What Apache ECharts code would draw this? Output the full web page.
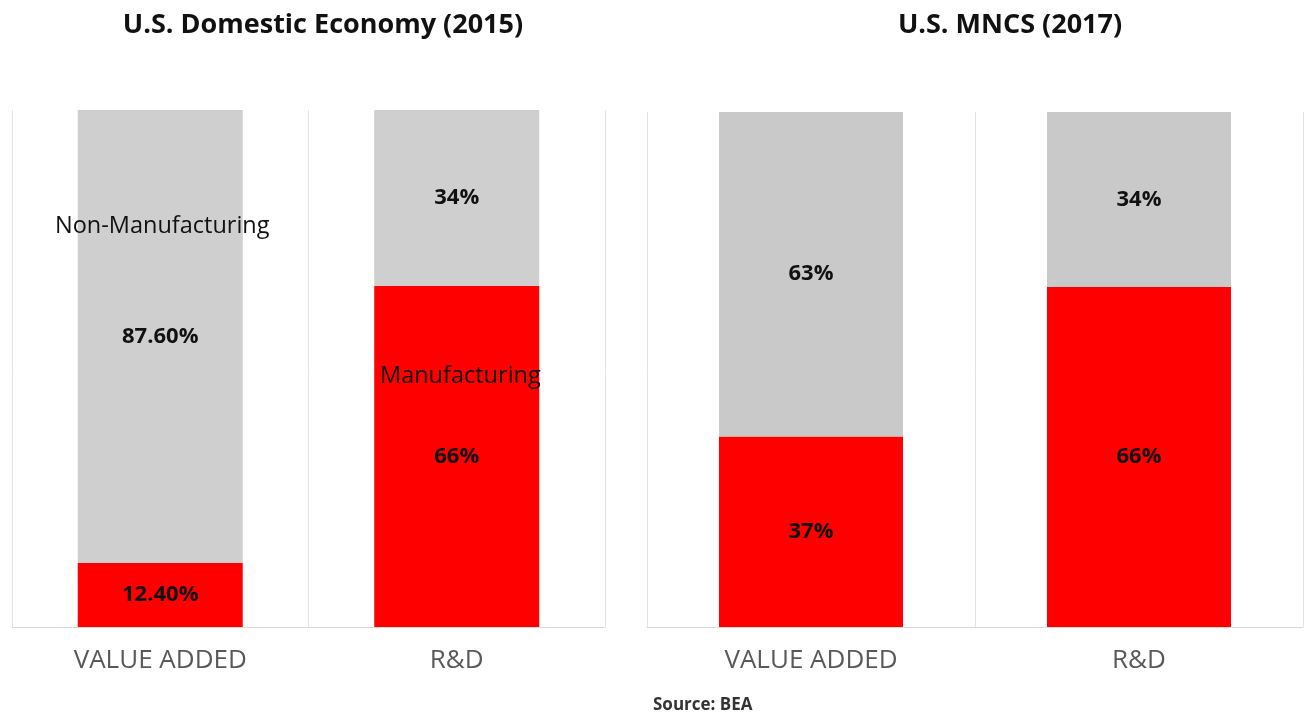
<!DOCTYPE html>
<html>
<head>
<meta charset="utf-8">
<script src="https://cdn.jsdelivr.net/npm/echarts@6/dist/echarts.min.js"></script>
<style>
  html, body { margin: 0; padding: 0; background: #fff; }
  #chart { width: 1304px; height: 719px; }
</style>
</head>
<body>
<div id="chart"></div>
<script>
var categories = ['VALUE ADDED', 'R&D'];
// U.S. Domestic Economy (2015)
var domesticMfg = [12.4, 66];
var domesticNonMfg = [87.6, 34];
var domesticLabelsMfg = ['12.40%', '66%'];
var domesticLabelsNon = ['87.60%', '34%'];
// U.S. MNCS (2017)
var mncMfg = [37, 66];
var mncNonMfg = [63, 34];
var mncLabelsMfg = ['37%', '66%'];
var mncLabelsNon = ['63%', '34%'];

var FONT = 'Open Sans';
var chart = echarts.init(document.getElementById('chart'));

function xAxisFor(idx) {
  return {
    type: 'category',
    gridIndex: idx,
    data: categories,
    axisLine: { show: true, lineStyle: { color: '#d9d9d9', width: 1 } },
    axisTick: { show: false },
    splitLine: { show: true, lineStyle: { color: '#e3e3e3', width: 1 } },
    axisLabel: { color: '#595959', fontSize: 26, fontFamily: FONT, margin: 21 }
  };
}
function yAxisFor(idx) {
  return {
    type: 'value', gridIndex: idx, min: 0, max: 100,
    show: false, splitLine: { show: false }
  };
}
function barSeries(name, idx, data, labels, color, width) {
  return {
    name: name,
    type: 'bar',
    stack: 'total' + idx,
    xAxisIndex: idx,
    yAxisIndex: idx,
    barWidth: width,
    data: data,
    itemStyle: { color: color },
    label: {
      show: true,
      position: 'inside',
      color: '#111',
      fontWeight: 'bold',
      fontSize: 22,
      fontFamily: FONT,
      formatter: function (p) { return labels[p.dataIndex]; }
    }
  };
}

var option = {
  backgroundColor: '#fff',
  animation: false,
  title: [
    { text: 'U.S. Domestic Economy (2015)', left: 318, top: 7, textAlign: 'center',
      textStyle: { fontSize: 27, fontWeight: 'bold', color: '#111', fontFamily: FONT } },
    { text: 'U.S. MNCS (2017)', left: 1005, top: 7, textAlign: 'center',
      textStyle: { fontSize: 27, fontWeight: 'bold', color: '#111', fontFamily: FONT } }
  ],
  grid: [
    { left: 12, top: 110, width: 593, height: 517 },
    { left: 647, top: 112, width: 656, height: 515 }
  ],
  xAxis: [xAxisFor(0), xAxisFor(1)],
  yAxis: [yAxisFor(0), yAxisFor(1)],
  series: [
    barSeries('Manufacturing', 0, domesticMfg, domesticLabelsMfg, '#ff0000', 165),
    barSeries('Non-Manufacturing', 0, domesticNonMfg, domesticLabelsNon, '#d0cfd0', 165),
    barSeries('Manufacturing', 1, mncMfg, mncLabelsMfg, '#ff0000', 184),
    barSeries('Non-Manufacturing', 1, mncNonMfg, mncLabelsNon, '#c9c9c9', 184)
  ],
  graphic: [
    { type: 'text', left: 55, top: 214, z: 100,
      style: { text: 'Non-Manufacturing', fontSize: 23.5, fontFamily: FONT, fill: '#111' } },
    { type: 'text', left: 380, top: 364, z: 100,
      style: { text: 'Manufacturing', fontSize: 23.5, fontFamily: FONT, fill: '#111' } },
    { type: 'text', left: 653, top: 697, z: 100,
      style: { text: 'Source: BEA', fontSize: 17, fontWeight: 'bold', fontFamily: FONT, fill: '#333' } }
  ]
};
chart.setOption(option);
</script>
</body>
</html>
